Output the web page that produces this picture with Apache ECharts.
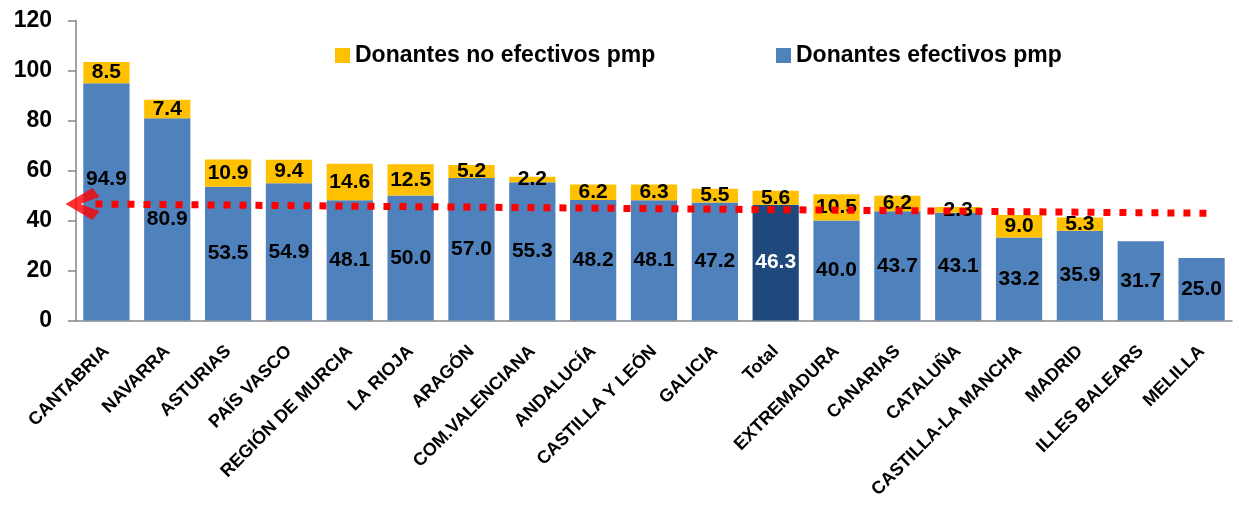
<!DOCTYPE html>
<html>
<head>
<meta charset="utf-8">
<script src="https://cdn.jsdelivr.net/npm/echarts@6/dist/echarts.min.js"></script>
<style>
  html, body { margin: 0; padding: 0; background: #fff; }
  #main-chart { width: 1239px; height: 506px; }
</style>
</head>
<body>
<div id="main-chart"></div>
<script>
var categories = ['CANTABRIA', 'NAVARRA', 'ASTURIAS', 'PAÍS VASCO', 'REGIÓN DE MURCIA', 'LA RIOJA',
    'ARAGÓN', 'COM.VALENCIANA', 'ANDALUCÍA', 'CASTILLA Y LEÓN', 'GALICIA', 'Total', 'EXTREMADURA',
    'CANARIAS', 'CATALUÑA', 'CASTILLA-LA MANCHA', 'MADRID', 'ILLES BALEARS', 'MELILLA'];
var efectivos = [94.9, 80.9, 53.5, 54.9, 48.1, 50.0, 57.0, 55.3, 48.2, 48.1, 47.2, 46.3, 40.0,
    43.7, 43.1, 33.2, 35.9, 31.7, 25.0];
var noEfectivos = [8.5, 7.4, 10.9, 9.4, 14.6, 12.5, 5.2, 2.2, 6.2, 6.3, 5.5, 5.6, 10.5,
    6.2, 2.3, 9.0, 5.3, null, null];
// red dotted line (x in category units, y in pmp)
var trendX = [0.32, 18.6];
var trendY = [46.6, 42.9];

var mainChart;
var font = 'Liberation Sans';

window.onload = function () {
    chartInit();
}

function chartInit() {
    mainChart = echarts.init(document.getElementById('main-chart'));

    var blueData = efectivos.map(function (v, i) {
        var item = { value: v };
        if (categories[i] == 'Total') {
            item.itemStyle = { color: '#1F497D' };
            item.label = { color: '#fff' };
        }
        if (i == 0) {
            item.label = { offset: [0, -23] };
        }
        return item;
    });

    var labelFmt = function (p) {
        return p.value == null ? '' : p.value.toFixed(1);
    };

    var legendText = { fontSize: 23, fontWeight: 'bold', color: '#000', fontFamily: font };

    var mainOpt = {
        animation: false,
        textStyle: { fontFamily: font },
        grid: { left: 76, right: 7, top: 20.5, bottom: 185.5 },
        legend: [{
            data: ['Donantes no efectivos pmp'],
            left: 335, top: 44, padding: 0,
            icon: 'rect', itemWidth: 15, itemHeight: 15, itemGap: 6,
            textStyle: legendText
        }, {
            data: ['Donantes efectivos pmp'],
            left: 776, top: 44, padding: 0,
            icon: 'rect', itemWidth: 15, itemHeight: 15, itemGap: 6,
            textStyle: legendText
        }],
        xAxis: [{
            type: 'category',
            data: categories,
            axisLine: { lineStyle: { color: '#868686', width: 1.5 } },
            axisTick: { length: 7, lineStyle: { color: '#868686', width: 1.5 } },
            axisLabel: {
                interval: 0, rotate: 45, margin: 28,
                fontSize: 18, fontWeight: 'bold', color: '#000', fontFamily: font
            }
        }, {
            type: 'value', min: 0, max: 19, show: false
        }],
        yAxis: {
            type: 'value', min: 0, max: 120, interval: 20,
            splitLine: { show: false },
            axisLine: { show: true, lineStyle: { color: '#868686', width: 1.5 } },
            axisTick: { show: true, length: 8, lineStyle: { color: '#868686', width: 1.5 } },
            axisLabel: { margin: 24, fontSize: 23, fontWeight: 'bold', color: '#000', fontFamily: font }
        },
        series: [{
            name: 'Donantes efectivos pmp',
            type: 'bar', stack: 'd', barWidth: '76%',
            itemStyle: { color: '#4F81BD' },
            label: { show: true, position: 'inside', formatter: labelFmt,
                fontSize: 21, fontWeight: 'bold', color: '#000', fontFamily: font },
            data: blueData
        }, {
            name: 'Donantes no efectivos pmp',
            type: 'bar', stack: 'd',
            itemStyle: { color: '#FFC000' },
            label: { show: true, position: 'inside', formatter: labelFmt,
                fontSize: 21, fontWeight: 'bold', color: '#000', fontFamily: font },
            data: noEfectivos
        }, {
            type: 'line', xAxisIndex: 1, z: 5,
            symbol: 'none', silent: true,
            lineStyle: { color: '#FF0000', width: 7, type: [7, 9] },
            data: trendX.map(function (x, i) { return [x, trendY[i]]; })
        }, {
            type: 'scatter', xAxisIndex: 1, z: 6, silent: true,
            symbol: 'path://M0,16 L27,0 L34,9 L15,16 L34,23 L27,32 Z',
            symbolSize: [34, 32], symbolOffset: [-13, 0],
            itemStyle: { color: '#FF0000' },
            data: [[trendX[0], trendY[0]]]
        }]
    };

    mainChart.setOption(mainOpt);
}
</script>
</body>
</html>
